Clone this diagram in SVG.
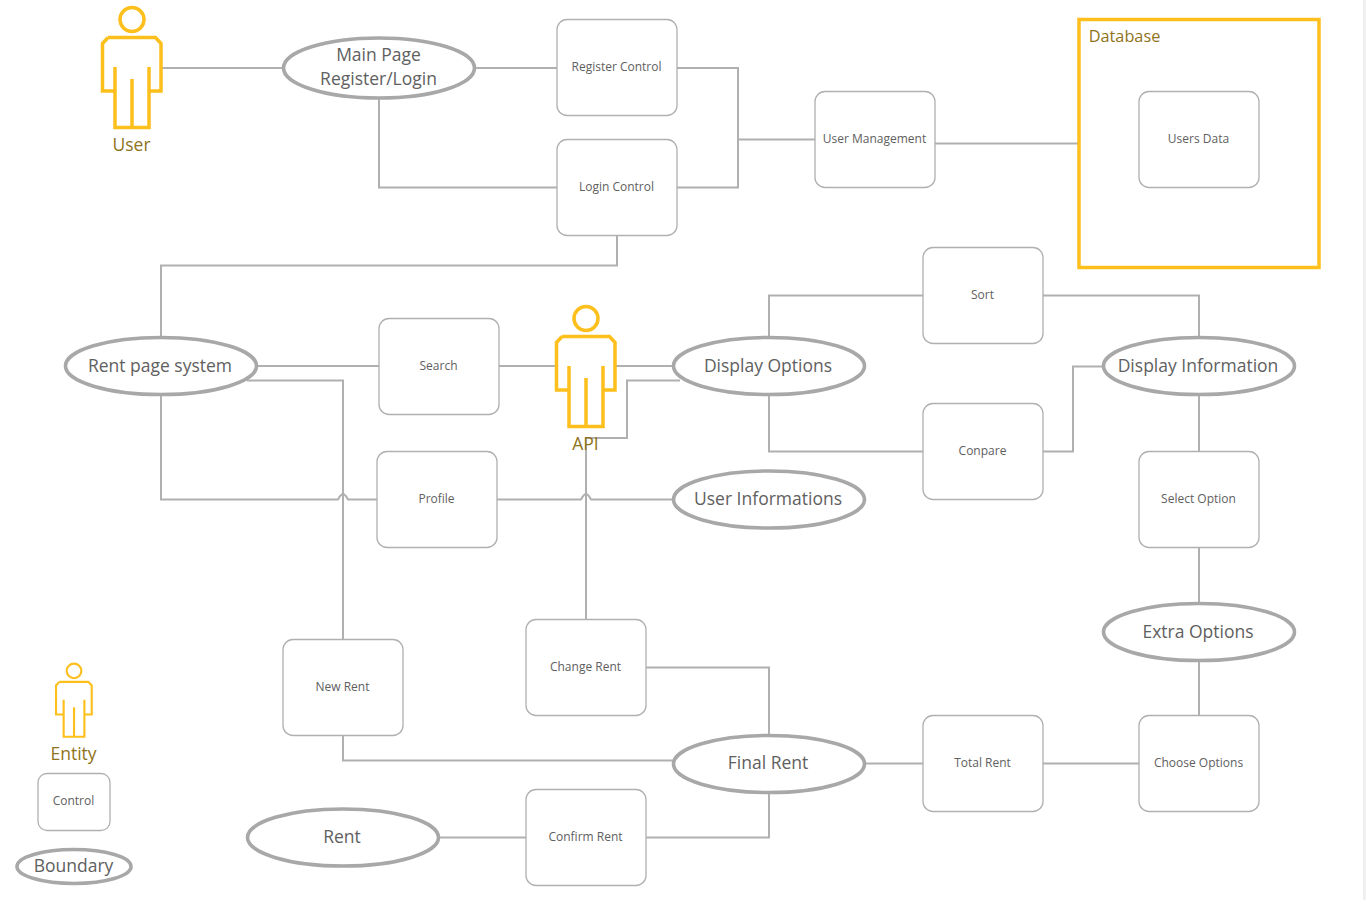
<svg xmlns="http://www.w3.org/2000/svg" width="1366" height="900" viewBox="0 0 1366 900">
<style>
text{font-family:"Open Sans","Noto Sans","DejaVu Sans",sans-serif;text-anchor:middle}
.c{fill:none;stroke:#b0b0b0;stroke-width:2}
.box{fill:#fff;stroke:#b0b0b0;stroke-width:1.3}
.box+text{font-size:12px;fill:#606060}
.oval{fill:#fff;stroke:#a8a8a8;stroke-width:3.6}
.oval~text{font-size:17.5px;fill:#606060}
.act{fill:none;stroke:#fcbf1c;stroke-width:3.5}
.small .act{stroke-width:4.6}
.lab{font-size:17.5px;fill:#8f7320}
</style>
<defs>
<g id="actor"><circle cx="132" cy="19.5" r="12" class="act"/><path class="act" d="M108 37.500H155.500L161 43.500V91H149M115 91H102.500V43.500L108 37.500M115 67V127.500H149V67M132 79V127.500"/></g>
</defs>
<rect width="1366" height="900" fill="#fff"/>
<rect x="1363" y="0" width="3" height="900" fill="#f0f0f0"/>
<g id="connectors" class="c">
<path d="M162 68H283"/><path d="M475 68H557"/><path d="M379 98V187.500H557"/>
<path d="M677 68H738V187.500H677"/><path d="M738 139.500H815"/><path d="M935 143.500H1079"/>
<path d="M617 235V265.500H161V337"/><path d="M257 366H379"/><path d="M499 366H556"/><path d="M616 366H673"/>
<path d="M247 380.500H343V640"/><path d="M161 395V499.500H338Q343 489 348 499.500H377"/>
<path d="M497 499.500H581Q586 489 591 499.500H673"/><path d="M586 620V438H627V380.500H680"/>
<path d="M769 337V295.500H923"/><path d="M1043 295.500H1199V337"/><path d="M769 395V451.500H923"/>
<path d="M1043 451.500H1073V366.500H1102"/><path d="M1199 395V451"/><path d="M1199 547V604"/><path d="M1199 660V715"/>
<path d="M1139 763.500H1043"/><path d="M923 763.500H865"/><path d="M343 735V760.500H673"/>
<path d="M646 667.500H769V735"/><path d="M769 793V837.500H646"/><path d="M526 837.500H439"/>
</g>
<g id="user"><use href="#actor"/><text class="lab" x="131.500" y="151">User</text></g>
<g id="api"><use href="#actor" x="454" y="299"/><text class="lab" x="585.500" y="450">API</text></g>
<g id="entity" class="small"><use href="#actor" transform="translate(-6.500 659) scale(0.61)"/><text class="lab" x="73.500" y="760">Entity</text></g>
<g id="database"><rect x="1079" y="19.500" width="240" height="248" fill="none" stroke="#fcbf1c" stroke-width="3.5"/><text x="1124.500" y="42" font-size="16.300px" fill="#8f7320">Database</text></g>
<g id="register-control"><rect class="box" x="557" y="19.500" width="120" height="96" rx="10"/><text x="616.500" y="71">Register Control</text></g>
<g id="login-control"><rect class="box" x="557" y="139.500" width="120" height="96" rx="10"/><text x="616.500" y="191">Login Control</text></g>
<g id="user-management"><rect class="box" x="815" y="91.500" width="120" height="96" rx="10"/><text x="874.500" y="143">User Management</text></g>
<g id="users-data"><rect class="box" x="1139" y="91.500" width="120" height="96" rx="10"/><text x="1198.500" y="143">Users Data</text></g>
<g id="sort"><rect class="box" x="923" y="247.500" width="120" height="96" rx="10"/><text x="982.500" y="299">Sort</text></g>
<g id="search"><rect class="box" x="379" y="318.500" width="120" height="96" rx="10"/><text x="438.500" y="370">Search</text></g>
<g id="conpare"><rect class="box" x="923" y="403.500" width="120" height="96" rx="10"/><text x="982.500" y="455">Conpare</text></g>
<g id="profile"><rect class="box" x="377" y="451.500" width="120" height="96" rx="10"/><text x="436.500" y="503">Profile</text></g>
<g id="select-option"><rect class="box" x="1139" y="451.500" width="120" height="96" rx="10"/><text x="1198.500" y="503">Select Option</text></g>
<g id="change-rent"><rect class="box" x="526" y="619.500" width="120" height="96" rx="10"/><text x="585.500" y="671">Change Rent</text></g>
<g id="new-rent"><rect class="box" x="283" y="639.500" width="120" height="96" rx="10"/><text x="342.500" y="691">New Rent</text></g>
<g id="total-rent"><rect class="box" x="923" y="715.500" width="120" height="96" rx="10"/><text x="982.500" y="767">Total Rent</text></g>
<g id="choose-options"><rect class="box" x="1139" y="715.500" width="120" height="96" rx="10"/><text x="1198.500" y="767">Choose Options</text></g>
<g id="confirm-rent"><rect class="box" x="526" y="789.500" width="120" height="96" rx="10"/><text x="585.500" y="841">Confirm Rent</text></g>
<g id="control"><rect class="box" x="38" y="773.500" width="72" height="57" rx="9"/><text x="73.500" y="805">Control</text></g>
<g id="main-page"><ellipse class="oval" cx="379" cy="68" rx="95.500" ry="30"/><text x="378.500" y="61">Main Page</text><text x="378.500" y="85">Register/Login</text></g>
<g id="rent-page-system"><ellipse class="oval" cx="161" cy="366" rx="95.500" ry="28.500"/><text x="160" y="372">Rent page system</text></g>
<g id="display-options"><ellipse class="oval" cx="769" cy="366" rx="95.500" ry="28.500"/><text x="768" y="372">Display Options</text></g>
<g id="display-information"><ellipse class="oval" cx="1199" cy="366" rx="95.500" ry="28.500"/><text x="1198" y="372">Display Information</text></g>
<g id="user-informations"><ellipse class="oval" cx="769" cy="499.500" rx="95.500" ry="28.500"/><text x="768" y="505">User Informations</text></g>
<g id="extra-options"><ellipse class="oval" cx="1199" cy="632" rx="95.500" ry="28.500"/><text x="1198" y="638">Extra Options</text></g>
<g id="final-rent"><ellipse class="oval" cx="769" cy="764" rx="95.500" ry="28.500"/><text x="768" y="769">Final Rent</text></g>
<g id="rent"><ellipse class="oval" cx="343" cy="837.500" rx="95.500" ry="28.500"/><text x="342" y="843">Rent</text></g>
<g id="boundary"><ellipse class="oval" cx="74" cy="866.500" rx="57" ry="17"/><text x="73.500" y="872">Boundary</text></g>
</svg>
